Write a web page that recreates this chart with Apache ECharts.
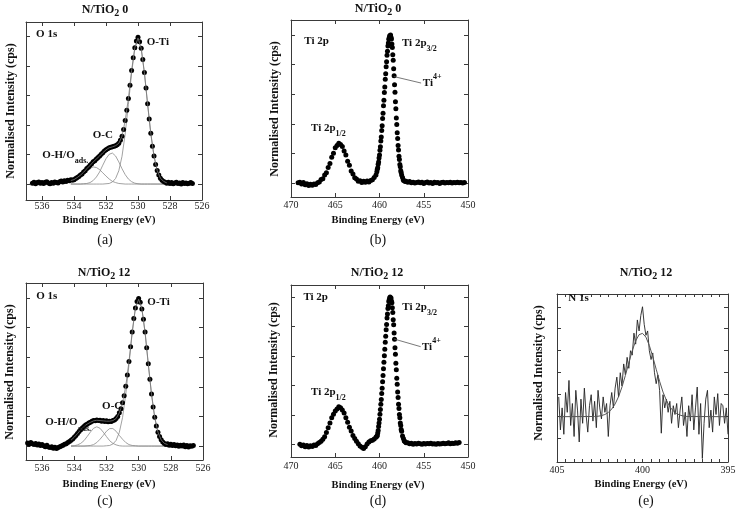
<!DOCTYPE html>
<html>
<head>
<meta charset="utf-8">
<title>XPS spectra N/TiO2</title>
<script src="https://cdn.jsdelivr.net/npm/echarts@6.0.0/dist/echarts.min.js"></script>
<style>
html,body{margin:0;padding:0;background:#ffffff;}
#chart{width:744px;height:522px;}
</style>
</head>
<body>
<div id="chart"></div>
<script>
// ================= DATA =================
// tick values
const o1sTicks = [536, 534, 532, 530, 528, 526];
const ti2pTicks = [470, 465, 460, 455, 450];
const n1sTicks = [405, 400, 395];
const n1sMinorTicks = [405, 404.5, 404, 403.5, 403, 402.5, 402, 401.5, 401, 400.5, 400, 399.5, 399, 398.5, 398, 397.5, 397, 396.5, 396, 395.5, 395];
const intensityTicks = [0, 1, 2, 3, 4, 5];
const n1sIntensityTicks = [-1, 0, 1, 2, 3, 4, 5];

// (a) O 1s, N/TiO2 0 : measured points
const o1s0Energy = [
 536.6,536.5,536.4,536.3,536.2,536.1,536.0,535.9,535.8,535.7,
 535.6,535.5,535.4,535.3,535.2,535.1,535.0,534.9,534.8,534.7,
 534.6,534.5,534.4,534.3,534.2,534.1,534.0,533.9,533.8,533.7,
 533.6,533.5,533.4,533.3,533.2,533.1,533.0,532.9,532.8,532.7,
 532.6,532.5,532.4,532.3,532.2,532.1,532.0,531.9,531.8,531.7,
 531.6,531.5,531.4,531.3,531.2,531.1,531.0,530.9,530.8,530.7,
 530.6,530.5,530.4,530.3,530.2,530.1,530.0,529.9,529.8,529.7,
 529.6,529.5,529.4,529.3,529.2,529.1,529.0,528.9,528.8,528.7,
 528.6,528.5,528.4,528.3,528.2,528.1,528.0,527.9,527.8,527.7,
 527.6,527.5,527.4,527.3,527.2,527.1,527.0,526.9,526.8,526.7,
 526.6];
const o1s0Counts = [
 0.03,0.06,0.01,0.05,0.07,0.03,0.05,0.02,0.06,0.08,
 0.04,0.01,0.05,0.03,0.07,0.05,0.04,0.08,0.10,0.07,
 0.11,0.09,0.13,0.11,0.15,0.14,0.15,0.19,0.22,0.26,
 0.31,0.34,0.41,0.45,0.53,0.57,0.64,0.69,0.76,0.79,
 0.85,0.90,0.95,1.01,1.06,1.12,1.16,1.20,1.23,1.25,
 1.26,1.28,1.30,1.33,1.38,1.48,1.62,1.85,2.15,2.50,
 2.90,3.35,3.85,4.28,4.62,4.85,4.97,4.82,4.60,4.22,
 3.78,3.25,2.72,2.20,1.72,1.28,0.95,0.66,0.46,0.31,
 0.20,0.13,0.09,0.06,0.03,0.06,0.02,0.05,0.01,0.04,
 0.06,0.02,0.04,0.00,0.05,0.02,0.04,0.01,0.03,0.05,
 0.02];

// O 1s fit grid (shared by panels a and c)
const o1sFitEnergy = [534.2,534.0,533.8,533.6,533.4,533.2,533.0,532.8,532.6,532.4,532.2,532.0,531.8,531.6,531.4,531.2,531.0,530.8,530.6,530.4,530.2,530.0,529.8,529.6,529.4,529.2,529.0,528.8,528.6,528.4,528.2];
const o1s0Envelope = [0.12,0.15,0.22,0.30,0.40,0.52,0.63,0.75,0.85,0.95,1.06,1.16,1.23,1.26,1.30,1.38,1.62,2.15,2.90,3.85,4.62,4.95,4.60,3.78,2.72,1.72,0.95,0.46,0.20,0.09,0.04];
const o1s0CompOH = [0.03,0.07,0.13,0.21,0.32,0.44,0.53,0.58,0.56,0.49,0.38,0.27,0.17,0.09,0.05,0.02,0.01,0,0,0,0,0,0,0,0,0,0,0,0,0,0];
const o1s0CompOC = [0,0,0,0,0.01,0.02,0.05,0.12,0.24,0.41,0.64,0.86,1.01,1.05,0.95,0.75,0.52,0.32,0.17,0.08,0.03,0.01,0,0,0,0,0,0,0,0,0];
const o1s0CompOTi = [0,0,0,0,0,0,0,0,0,0,0,0.01,0.02,0.07,0.19,0.45,0.94,1.70,2.70,3.76,4.59,4.90,4.59,3.76,2.70,1.70,0.94,0.45,0.19,0.07,0.02];

// (c) O 1s, N/TiO2 12 : measured points
const o1s12Energy = [
 536.9,536.8,536.7,
 536.6,536.5,536.4,536.3,536.2,536.1,536.0,535.9,535.8,535.7,
 535.6,535.5,535.4,535.3,535.2,535.1,535.0,534.9,534.8,534.7,
 534.6,534.5,534.4,534.3,534.2,534.1,534.0,533.9,533.8,533.7,
 533.6,533.5,533.4,533.3,533.2,533.1,533.0,532.9,532.8,532.7,
 532.6,532.5,532.4,532.3,532.2,532.1,532.0,531.9,531.8,531.7,
 531.6,531.5,531.4,531.3,531.2,531.1,531.0,530.9,530.8,530.7,
 530.6,530.5,530.4,530.3,530.2,530.1,530.0,529.9,529.8,529.7,
 529.6,529.5,529.4,529.3,529.2,529.1,529.0,528.9,528.8,528.7,
 528.6,528.5,528.4,528.3,528.2,528.1,528.0,527.9,527.8,527.7,
 527.6,527.5,527.4,527.3,527.2,527.1,527.0,526.9,526.8,526.7,
 526.6];
const o1s12Counts = [
 0.10,0.06,0.12,
 0.08,0.05,0.09,0.04,0.07,0.02,0.05,0.01,-0.02,0.03,
 -0.03,-0.05,-0.02,-0.07,-0.04,-0.08,-0.05,-0.02,0.00,0.03,
 0.06,0.08,0.12,0.15,0.20,0.24,0.30,0.36,0.42,0.49,
 0.55,0.61,0.66,0.71,0.74,0.78,0.80,0.84,0.86,0.85,
 0.88,0.86,0.87,0.84,0.86,0.83,0.85,0.82,0.84,0.83,
 0.86,0.88,0.93,1.00,1.12,1.26,1.46,1.70,2.02,2.40,
 2.85,3.35,3.85,4.30,4.66,4.88,4.98,4.85,4.62,4.28,
 3.85,3.32,2.78,2.25,1.76,1.32,0.97,0.68,0.47,0.32,
 0.21,0.14,0.09,0.05,0.08,0.03,0.06,0.02,0.05,0.01,
 0.04,-0.01,0.03,0.00,0.04,-0.02,0.02,-0.03,0.01,-0.01,
 0.02];
const o1s12Envelope = [0.20,0.30,0.42,0.55,0.66,0.74,0.80,0.85,0.87,0.86,0.85,0.84,0.84,0.86,0.93,1.12,1.46,2.02,2.85,3.85,4.66,4.95,4.63,3.85,2.78,1.76,0.97,0.47,0.21,0.09,0.05];
const o1s12CompOH = [0.00,0.01,0.04,0.09,0.18,0.32,0.47,0.60,0.65,0.60,0.47,0.32,0.18,0.09,0.04,0.01,0,0,0,0,0,0,0,0,0,0,0,0,0,0,0];
const o1s12CompOC = [0,0,0,0,0,0.01,0.02,0.05,0.12,0.23,0.36,0.50,0.59,0.59,0.50,0.36,0.23,0.12,0.05,0.02,0.01,0,0,0,0,0,0,0,0,0,0];
const o1s12CompOTi = [0,0,0,0,0,0,0,0,0,0,0,0.01,0.02,0.07,0.19,0.46,0.96,1.74,2.75,3.82,4.65,4.95,4.65,3.82,2.75,1.74,0.96,0.46,0.19,0.07,0.02];

// (b),(d) Ti 2p energy grid
const ti2pEnergy = [
 469.2,469.0,468.8,468.6,468.4,468.2,468.0,467.8,467.6,467.4,
 467.2,467.0,466.8,466.6,466.4,466.2,466.0,465.8,465.6,465.4,
 465.2,465.0,464.8,464.6,464.4,464.2,464.0,463.8,463.6,463.4,
 463.2,463.0,462.8,462.6,462.4,462.2,462.0,461.8,461.6,461.4,
 461.2,461.0,460.8,460.6,460.4,
 460.30,460.25,460.20,460.15,460.10,460.05,460.00,459.95,459.90,459.85,
 459.80,459.75,459.70,459.65,459.60,459.55,459.50,459.45,459.40,459.35,
 459.30,459.25,459.20,459.15,459.10,459.05,459.00,458.95,458.90,458.85,
 458.80,458.75,458.70,458.65,458.60,458.55,458.50,458.45,458.40,458.35,
 458.30,458.25,458.20,458.15,458.10,458.05,458.00,457.95,457.90,457.85,
 457.80,457.75,457.70,457.65,457.60,457.55,457.50,
 457.4,457.3,457.2,457.1,457.0,
 456.8,456.6,456.4,456.2,456.0,455.8,455.6,455.4,455.2,455.0,
 454.8,454.6,454.4,454.2,454.0,453.8,453.6,453.4,453.2,453.0,
 452.8,452.6,452.4,452.2,452.0,451.8,451.6,451.4,451.2,451.0,
 450.8,450.6,450.4];
// (b) Ti 2p, N/TiO2 0
const ti2p0Counts = [
 0.01,0.03,-0.03,0.02,-0.06,-0.02,-0.08,-0.04,-0.07,-0.03,
 -0.05,0.01,0.04,0.12,0.15,0.27,0.35,0.53,0.66,0.87,
 1.01,1.19,1.27,1.35,1.30,1.24,1.08,0.95,0.74,0.60,
 0.41,0.31,0.18,0.14,0.06,0.08,0.02,0.06,0.03,0.07,
 0.04,0.09,0.11,0.19,0.27,
 0.38,0.47,0.52,0.64,0.71,0.85,0.95,1.11,1.23,1.42,
 1.56,1.78,1.94,2.18,2.36,2.61,2.80,3.06,3.25,3.51,
 3.69,3.93,4.10,4.32,4.45,4.63,4.73,4.86,4.91,4.98,
 4.96,5.00,4.93,4.87,4.70,4.58,4.34,4.15,3.86,3.63,
 3.32,3.07,2.75,2.51,2.20,1.98,1.70,1.51,1.27,1.12,
 0.91,0.80,0.63,0.55,0.42,0.36,0.27,
 0.19,0.10,0.08,0.05,0.06,
 0.03,0.05,0.01,0.03,0.00,0.02,0.04,0.01,0.03,-0.01,
 0.02,0.04,0.00,0.02,-0.01,0.03,0.01,0.02,-0.01,0.02,
 0.03,0.00,0.02,0.01,0.03,0.00,0.02,0.01,0.03,0.01,
 0.02,0.00,0.02];
// (d) Ti 2p, N/TiO2 12
const ti2p12Counts = [
 null,0.00,-0.05,-0.02,-0.08,-0.04,-0.09,-0.05,-0.07,-0.02,
 -0.04,0.02,0.06,0.10,0.17,0.26,0.40,0.56,0.72,0.90,
 1.02,1.13,1.20,1.27,1.24,1.16,1.06,0.90,0.75,0.58,
 0.45,0.30,0.20,0.10,0.02,-0.06,-0.10,-0.14,-0.08,0.01,
 0.08,0.12,0.14,0.18,0.24,
 0.27,0.30,0.38,0.47,0.60,0.72,0.85,1.02,1.18,1.36,
 1.52,1.72,1.90,2.12,2.33,2.56,2.78,3.00,3.22,3.46,
 3.66,3.88,4.06,4.28,4.42,4.60,4.70,4.84,4.90,4.96,
 4.99,4.95,4.96,4.86,4.80,4.63,4.47,4.22,4.05,3.77,
 3.56,3.27,3.05,2.75,2.53,2.24,2.04,1.77,1.59,1.36,
 1.21,1.01,0.90,0.72,0.64,0.50,0.44,
 0.28,0.20,0.11,0.09,0.05,
 0.05,0.02,0.04,0.00,0.03,0.01,0.04,0.02,0.00,0.03,
 0.01,0.03,0.02,0.04,0.01,0.02,0.00,0.03,0.01,0.02,
 0.04,0.02,0.03,0.05,0.02,0.04,0.03,0.05,0.04,0.06,
 null,null,null];

// (e) N 1s, N/TiO2 12
const n1sEnergy = [
 404.9,404.8,404.7,404.6,404.5,404.4,404.3,404.2,404.1,404.0,
 403.9,403.8,403.7,403.6,403.5,403.4,403.3,403.2,403.1,403.0,
 402.9,402.8,402.7,402.6,402.5,402.4,402.3,402.2,402.1,402.0,
 401.9,401.8,401.7,401.6,401.5,401.4,401.3,401.2,401.1,401.0,
 400.9,400.8,400.7,400.6,400.5,400.4,400.3,400.2,400.1,400.0,
 399.9,399.8,399.7,399.6,399.5,399.4,399.3,399.2,399.1,399.0,
 398.9,398.8,398.7,398.6,398.5,398.4,398.3,398.2,398.1,398.0,
 397.9,397.8,397.7,397.6,397.5,397.4,397.3,397.2,397.1,397.0,
 396.9,396.8,396.7,396.6,396.5,396.4,396.3,396.2,396.1,396.0,
 395.9,395.8,395.7,395.6,395.5,395.4,395.3,395.2,395.1,395.0];
const n1sCounts = [
 0.9,-0.6,0.4,-0.8,1.1,0.2,1.65,-0.4,0.6,-0.9,
 1.2,0.3,-1.15,0.8,-0.3,1.3,0.1,-0.7,0.5,1.0,
 -0.2,0.7,-0.5,1.2,0.4,-0.1,0.9,0.2,0.6,-0.9,
 0.5,1.1,0.4,1.3,1.8,0.9,2.0,1.4,2.4,1.9,
 2.7,2.2,3.0,2.8,3.8,3.3,4.4,3.9,4.6,5.0,
 4.2,3.7,3.9,3.0,2.6,2.9,2.0,1.5,1.9,1.2,
 -0.75,1.0,0.4,0.8,0.2,0.7,-0.3,0.5,0.1,0.6,
 -0.5,0.3,0.9,-0.4,0.2,-0.9,0.5,-0.2,1.0,-0.6,
 0.4,1.35,-0.8,0.6,-1.9,-0.3,0.8,1.2,-0.5,0.3,
 -0.7,0.9,0.1,1.05,-0.4,0.6,0.5,-0.3,0.4,-0.8];
const n1sFitEnergy = [404.9,402.8,402.6,402.4,402.2,402.0,401.8,401.6,401.4,401.2,401.0,400.8,400.6,400.4,400.2,400.0,399.8,399.6,399.4,399.2,399.0,398.8,398.6,398.4,398.2,398.0,397.8,397.6,397.4,395.1];
const n1sFit = [0,0.01,0.02,0.05,0.10,0.19,0.35,0.58,0.91,1.35,1.88,2.45,3.00,3.45,3.73,3.79,3.62,3.24,2.73,2.16,1.61,1.12,0.74,0.45,0.26,0.14,0.07,0.03,0.01,0];

// ================= CHART =================
const FONT = "'Liberation Serif','DejaVu Serif','Times New Roman',serif";
const AX = '#3a3a3a';
const chart = echarts.init(document.getElementById('chart'), null, {renderer: 'canvas'});

const panels = [
  {grid:{left:26,top:22,width:176,height:178}, xr:[526,537], yr:[-0.54,5.49], xt:o1sTicks, xl:o1sTicks, yt:intensityTicks, lm:1, tl:4},
  {grid:{left:291,top:20,width:177,height:177}, xr:[450,470], yr:[-0.47,5.51], xt:ti2pTicks, xl:ti2pTicks, yt:intensityTicks, lm:3, tl:4},
  {grid:{left:26,top:283,width:177,height:177}, xr:[526,537], yr:[-0.47,5.5], xt:o1sTicks, xl:o1sTicks, yt:intensityTicks, lm:3, tl:4},
  {grid:{left:291,top:285,width:177,height:172}, xr:[450,470], yr:[-0.43,5.4], xt:ti2pTicks, xl:ti2pTicks, yt:intensityTicks, lm:4, tl:4},
  {grid:{left:557,top:294,width:171,height:168}, xr:[395,405], yr:[-2.06,5.58], xt:n1sMinorTicks, xl:n1sTicks, yt:n1sIntensityTicks, lm:3, tl:3}
];

function lineStyleAx(){ return {color: AX, width: 1}; }
const xAxis = [], yAxis = [];
panels.forEach((p, i) => {
  ['bottom','top'].forEach(pos => {
    xAxis.push({
      type:'value', gridIndex:i, position:pos, min:p.xr[0], max:p.xr[1], inverse:true,
      splitLine:{show:false},
      axisLine:{show:true, onZero:false, lineStyle:lineStyleAx()},
      axisTick:{show:true, inside:true, length:p.tl, customValues:p.xt.slice(), lineStyle:lineStyleAx()},
      axisLabel: pos === 'bottom'
        ? {show:true, customValues:p.xl.slice(), margin:p.lm, fontFamily:FONT, fontSize:10, color:'#222'}
        : {show:false}
    });
  });
  ['left','right'].forEach(pos => {
    yAxis.push({
      type:'value', gridIndex:i, position:pos, min:p.yr[0], max:p.yr[1],
      splitLine:{show:false},
      axisLine:{show:true, onZero:false, lineStyle:lineStyleAx()},
      axisTick:{show:true, inside:true, length:4, customValues:p.yt.slice(), lineStyle:lineStyleAx()},
      axisLabel:{show:false}
    });
  });
});

const pts = (xs, ys) => xs.map((x, i) => [x, ys[i]]).filter(d => d[1] !== null && d[1] !== undefined);
function scatter(i, xs, ys){
  return {type:'scatter', xAxisIndex:2*i, yAxisIndex:2*i, data:pts(xs, ys), symbol:'circle', symbolSize:5,
          itemStyle:{color:'#000', opacity:1}, z:3, silent:true, animation:false};
}
function curve(i, xs, ys, color, w, z){
  return {type:'line', xAxisIndex:2*i, yAxisIndex:2*i, data:pts(xs, ys), symbol:'none', showSymbol:false,
          lineStyle:{color:color, width:w}, z:z, silent:true, animation:false};
}

const COMP = '#8a8a8a';
const series = [
  curve(0, o1sFitEnergy, o1s0CompOH, COMP, 0.8, 2),
  curve(0, o1sFitEnergy, o1s0CompOC, COMP, 0.8, 2),
  curve(0, o1sFitEnergy, o1s0CompOTi, COMP, 0.8, 2),
  scatter(0, o1s0Energy, o1s0Counts),
  curve(0, o1sFitEnergy, o1s0Envelope, '#777', 0.8, 4),
  scatter(1, ti2pEnergy, ti2p0Counts),
  curve(2, o1sFitEnergy, o1s12CompOH, COMP, 0.8, 2),
  curve(2, o1sFitEnergy, o1s12CompOC, COMP, 0.8, 2),
  curve(2, o1sFitEnergy, o1s12CompOTi, COMP, 0.8, 2),
  scatter(2, o1s12Energy, o1s12Counts),
  curve(2, o1sFitEnergy, o1s12Envelope, '#777', 0.8, 4),
  scatter(3, ti2pEnergy, ti2p12Counts),
  curve(4, n1sEnergy, n1sCounts, '#222', 0.9, 2),
  curve(4, n1sFitEnergy, n1sFit, '#555', 1.0, 3)
];

chart.setOption({
  animation:false,
  backgroundColor:'#ffffff',
  grid: panels.map(p => Object.assign({containLabel:false}, p.grid)),
  xAxis: xAxis,
  yAxis: yAxis,
  series: series
});

// ---------- text: titles, axis names, panel letters, annotations ----------
const toPx = (i, at) => chart.convertToPixel({xAxisIndex:2*i, yAxisIndex:2*i}, at);
const graphics = [];

function addText(x, y, text, opt){
  opt = opt || {};
  graphics.push({
    type:'text', x:x, y:y, rotation:opt.rotation || 0, silent:true, z:100,
    style:{
      text:text, fill:'#111', fontFamily:FONT, fontSize:opt.size || 11,
      fontWeight:opt.weight || 'bold', align:opt.align || 'center', verticalAlign:'middle',
      lineHeight:opt.lh || 16,
      rich:{
        t:{fontFamily:FONT, fontSize:opt.size || 11, fontWeight:opt.weight || 'bold', fill:'#111', lineHeight:opt.lh || 16},
        s:{fontFamily:FONT, fontSize:opt.subSize || 8, fontWeight:'bold', fill:'#111', verticalAlign:'bottom', lineHeight:opt.subLh || 9},
        u:{fontFamily:FONT, fontSize:opt.subSize || 8, fontWeight:'bold', fill:'#111', verticalAlign:'top', lineHeight:opt.subLh || 9}
      }
    }
  });
}

// titles
const titles = [
  {x:105, y:10, t:'N/TiO{s|2} 0'},
  {x:378, y:9, t:'N/TiO{s|2} 0'},
  {x:104, y:273, t:'N/TiO{s|2} 12'},
  {x:377, y:273, t:'N/TiO{s|2} 12'},
  {x:646, y:273, t:'N/TiO{s|2} 12'}
];
titles.forEach(o => addText(o.x, o.y, o.t, {size:12, subSize:10, lh:16, subLh:12}));

// x-axis names
[[109,220.5],[378,220],[109,484],[378,485],[641,484]].forEach(p => addText(p[0], p[1], 'Binding Energy (eV)', {size:10.5}));
// y-axis names
[[11,111],[275,109],[10,372],[274,370],[539,373]].forEach(p => addText(p[0], p[1], 'Normalised Intensity (cps)', {size:12, rotation:Math.PI/2}));
// panel letters
[[105,240,'(a)'],[378,240,'(b)'],[105,501,'(c)'],[378,501,'(d)'],[646,501,'(e)']].forEach(p => addText(p[0], p[1], p[2], {size:14, weight:'normal'}));

// in-plot annotations (data coordinates)
const notes = [
  {p:0, at:[536.37,5.07], t:'O 1s'},
  {p:0, at:[529.46,4.82], t:'O-Ti'},
  {p:0, at:[532.83,1.66], t:'O-C'},
  {p:0, at:[535.98,0.97], t:'O-H/O{s|ads.}'},
  {p:1, at:[468.5,4.81], t:'Ti 2p'},
  {p:1, at:[457.46,4.72], t:'Ti 2p{s|3/2}'},
  {p:1, at:[455.1,3.37], t:'Ti{u|4+}'},
  {p:1, at:[467.74,1.85], t:'Ti 2p{s|1/2}'},
  {p:2, at:[536.37,5.04], t:'O 1s'},
  {p:2, at:[529.46,4.84], t:'O-Ti'},
  {p:2, at:[532.27,1.33], t:'O-C'},
  {p:2, at:[535.81,0.79], t:'O-H/O{s|ads.}'},
  {p:3, at:[468.6,5.0], t:'Ti 2p'},
  {p:3, at:[457.42,4.66], t:'Ti 2p{s|3/2}'},
  {p:3, at:[455.2,3.29], t:'Ti{u|4+}'},
  {p:3, at:[467.74,1.78], t:'Ti 2p{s|1/2}'},
  {p:4, at:[404.34,5.41], t:'N 1s'}
];
notes.forEach(n => {
  const px = toPx(n.p, n.at);
  const hasSub = n.t.indexOf('{') >= 0;
  addText(px[0], px[1], n.t, {size:11, align:'left', lh: hasSub ? 20 : 16, subSize:8, subLh:9});
});

// leader lines to the Ti4+ component
const leaders = [
  {p:1, from:[458.38,3.6], to:[455.3,3.38]},
  {p:3, from:[458.36,3.57], to:[455.35,3.31]}
];
leaders.forEach(l => {
  const a = toPx(l.p, l.from), b = toPx(l.p, l.to);
  graphics.push({type:'line', silent:true, z:90, shape:{x1:a[0], y1:a[1], x2:b[0], y2:b[1]},
                 style:{stroke:'#555', lineWidth:0.8}});
});

chart.setOption({graphic: graphics});
</script>
</body>
</html>
